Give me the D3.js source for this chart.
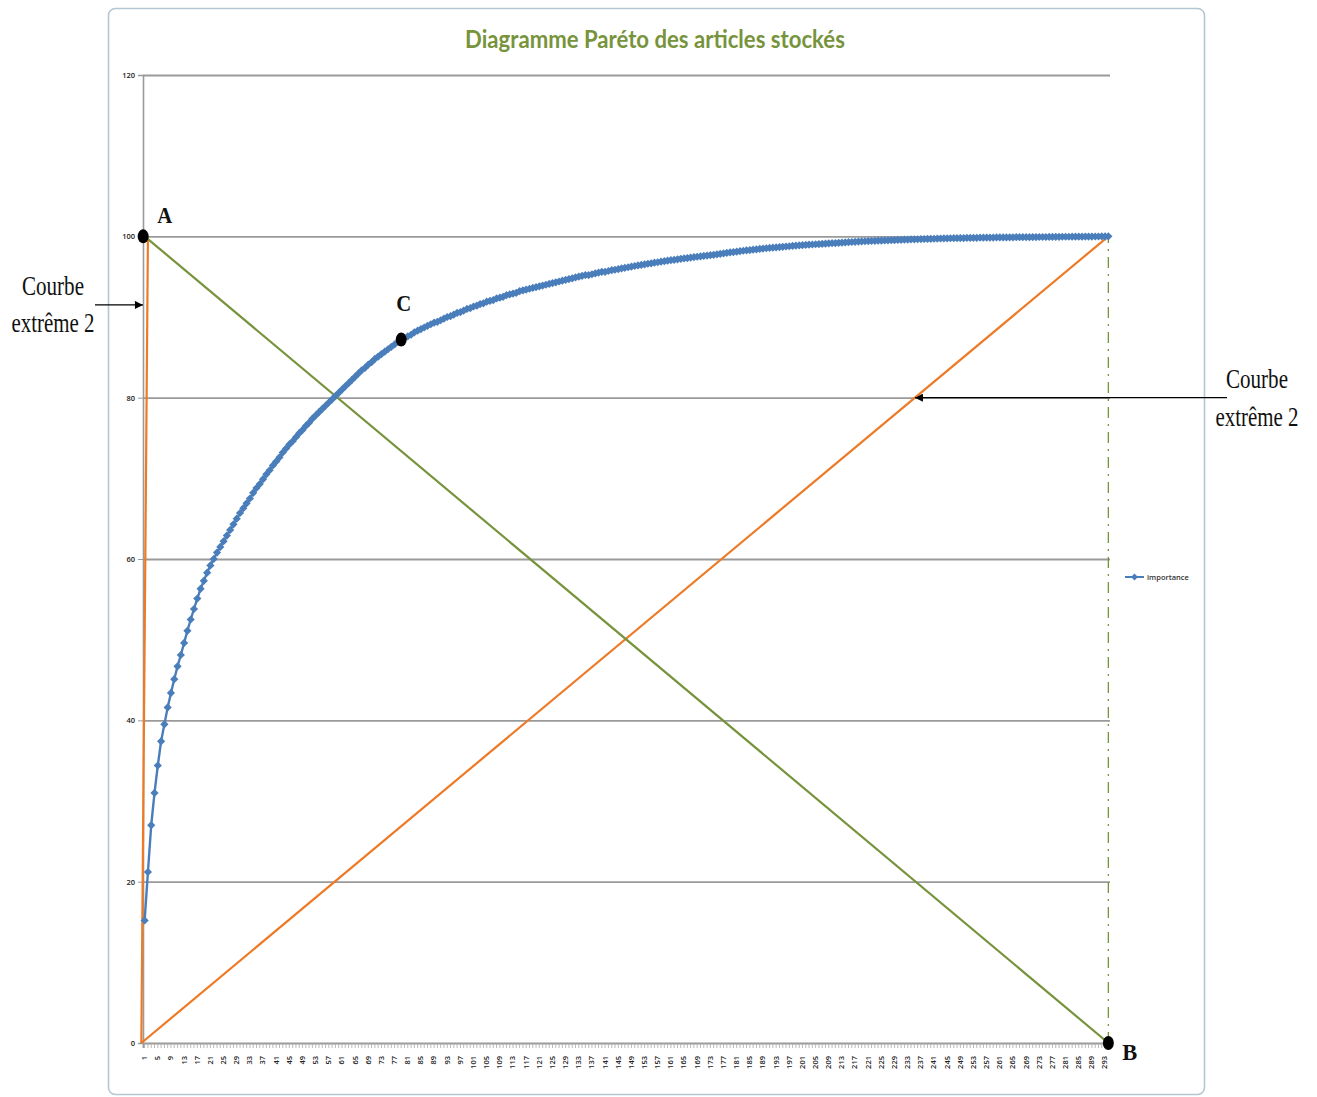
<!DOCTYPE html>
<html>
<head>
<meta charset="utf-8">
<script src="https://cdn.jsdelivr.net/npm/d3@7"></script>
<style>
  body { margin: 0; background: #fff; }
  svg { display: block; }
</style>
</head>
<body>
<svg id="chart" width="1317" height="1097"></svg>
<script>
// ---- data -------------------------------------------------------------
const chartTitle = "Diagramme Paréto des articles stockés";
const seriesName = "importance";

// article ranks 1..294
const categories = d3.range(1, 295);

// cumulative importance (%) by article rank
const importance = [
  15.2, 21.2, 27.0, 31.0, 34.4, 37.4, 39.5, 41.6, 43.4, 45.1,
  46.7, 48.1, 49.6, 51.1, 52.5, 53.8, 55.1, 56.3, 57.3, 58.3,
  59.2, 60.0, 60.8, 61.5, 62.2, 62.9, 63.6, 64.3, 65.0, 65.7,
  66.3, 66.9, 67.5, 68.2, 68.8, 69.3, 69.9, 70.5, 71.0, 71.6,
  72.1, 72.6, 73.2, 73.7, 74.2, 74.6, 75.1, 75.6, 76.0, 76.5,
  76.9, 77.4, 77.8, 78.2, 78.6, 79.0, 79.4, 79.8, 80.2, 80.6,
  81.0, 81.4, 81.8, 82.2, 82.6, 83.0, 83.4, 83.7, 84.1, 84.4,
  84.8, 85.1, 85.4, 85.7, 86.0, 86.3, 86.6, 86.9, 87.2, 87.4,
  87.6, 87.8, 88.1, 88.3, 88.5, 88.7, 88.9, 89.1, 89.3, 89.4,
  89.6, 89.8, 90.0, 90.1, 90.3, 90.5, 90.6, 90.8, 91.0, 91.1,
  91.3, 91.4, 91.6, 91.7, 91.9, 92.0, 92.1, 92.3, 92.4, 92.5,
  92.7, 92.8, 92.9, 93.0, 93.2, 93.3, 93.4, 93.5, 93.6, 93.7,
  93.8, 93.9, 94.0, 94.1, 94.2, 94.3, 94.4, 94.5, 94.6, 94.7,
  94.8, 94.9, 95.0, 95.1, 95.2, 95.2, 95.3, 95.4, 95.5, 95.6,
  95.6, 95.7, 95.8, 95.86, 95.94, 96.02, 96.09, 96.17, 96.25, 96.32,
  96.39, 96.46, 96.53, 96.60, 96.66, 96.73, 96.79, 96.86, 96.92, 96.98,
  97.04, 97.09, 97.15, 97.21, 97.26, 97.31, 97.37, 97.42, 97.47, 97.52,
  97.57, 97.61, 97.66, 97.71, 97.77, 97.83, 97.88, 97.94, 98.00, 98.05,
  98.10, 98.16, 98.21, 98.26, 98.30, 98.35, 98.39, 98.44, 98.48, 98.52,
  98.56, 98.59, 98.63, 98.67, 98.70, 98.74, 98.77, 98.81, 98.84, 98.87,
  98.90, 98.93, 98.96, 98.99, 99.02, 99.04, 99.07, 99.09, 99.12, 99.15,
  99.17, 99.20, 99.22, 99.25, 99.27, 99.30, 99.32, 99.35, 99.37, 99.39,
  99.41, 99.42, 99.44, 99.46, 99.48, 99.49, 99.51, 99.52, 99.54, 99.56,
  99.57, 99.59, 99.60, 99.62, 99.63, 99.64, 99.66, 99.67, 99.68, 99.69,
  99.70, 99.72, 99.73, 99.74, 99.75, 99.76, 99.77, 99.77, 99.78, 99.79,
  99.80, 99.80, 99.81, 99.82, 99.83, 99.83, 99.84, 99.84, 99.85, 99.86,
  99.86, 99.87, 99.87, 99.88, 99.88, 99.89, 99.89, 99.90, 99.90, 99.90,
  99.91, 99.91, 99.92, 99.92, 99.92, 99.93, 99.93, 99.94, 99.94, 99.95,
  99.95, 99.95, 99.96, 99.96, 99.96, 99.96, 99.97, 99.97, 99.97, 99.98,
  99.98, 99.99, 99.99, 100.0
];

const yTickValues = [0, 20, 40, 60, 80, 100, 120];
const xTickLabels = categories.filter(c => (c - 1) % 4 === 0);

// reference lines: [rank, %]
const extremeSteep    = [[0, 0], [2, 100]];
const extremeDiagonal = [[0, 0], [294, 100]];
const diagonalAB      = [[1, 100], [294, 0]];
const verticalB       = [[294, 0], [294, 100]];

// named points
const pointA = { name: "A", rank: 1, value: 100 };
const pointB = { name: "B", rank: 294, value: 0 };
const pointC = { name: "C", rank: 79, value: importance[78] };

// annotation arrow tips, [rank, %]
const arrowLeftTip  = [1.4, 91.5];
const arrowRightTip = [294 * 0.8, 80];
const annotationLines = ["Courbe", "extrême 2"];

// ---- layout -----------------------------------------------------------
const svg = d3.select("#chart");
const plot = { left: 143, right: 1110, top: 75, bottom: 1043 };

const colors = {
  blue: "#4A7EBB",
  orange: "#EE7A26",
  green: "#77933C",
  grid: "#9a9a9a",
  frame: "#b4c6d3",
  title: "#77933C"
};

const x = d3.scaleBand().domain(categories).range([plot.left, plot.right]);
const xl = d3.scaleLinear()
  .domain([0.5, categories.length + 0.5])
  .range([plot.left, plot.right]);
const y = d3.scaleLinear().domain([0, 120]).range([plot.bottom, plot.top]);
const cx = c => x(c) + x.bandwidth() / 2;

// text squeezed horizontally to a given width (narrow typefaces)
function squeezedText(parent, str, px, py, width, attrs) {
  const g = parent.append("g");
  const t = g.append("text").attr("x", 0).attr("y", 0).text(str);
  Object.entries(attrs).forEach(([k, v]) => t.attr(k, v));
  const natural = t.node().getComputedTextLength();
  const sx = width / natural;
  const anchor = attrs["text-anchor"] || "start";
  t.attr("text-anchor", anchor);
  g.attr("transform", `translate(${px},${py}) scale(${sx},1)`);
  return g;
}

// chart frame
svg.append("rect")
  .attr("x", 108.5).attr("y", 8.5)
  .attr("width", 1096).attr("height", 1086)
  .attr("rx", 7)
  .attr("fill", "#fff")
  .attr("stroke", colors.frame)
  .attr("stroke-width", 1.6);

// title
squeezedText(svg, chartTitle, 655, 48, 380, {
  "text-anchor": "middle",
  "font-family": "Lato, 'Open Sans', sans-serif",
  "font-weight": 700,
  "font-size": 25,
  "fill": colors.title
});

// horizontal gridlines
const grid = svg.append("g")
  .attr("transform", `translate(${plot.left},0)`)
  .call(d3.axisLeft(y)
    .tickValues(yTickValues.filter(v => v > 0))
    .tickSize(-(plot.right - plot.left))
    .tickFormat(""));
grid.select(".domain").remove();
grid.selectAll(".tick line").attr("stroke", colors.grid).attr("stroke-width", 1.8);

// y axis
const yAxis = svg.append("g")
  .attr("transform", `translate(${plot.left},0)`)
  .call(d3.axisLeft(y).tickValues(yTickValues).tickSize(5).tickPadding(3));
yAxis.select(".domain").attr("stroke", colors.grid).attr("stroke-width", 1.6);
yAxis.selectAll(".tick line").attr("stroke", colors.grid);
yAxis.selectAll("text")
  .attr("font-family", "'Open Sans', sans-serif")
  .attr("font-size", 7.5)
  .attr("font-weight", 600)
  .attr("fill", "#222");

// x axis: a tick at every rank, a label every fourth rank
const xTicks = svg.append("g")
  .attr("transform", `translate(0,${plot.bottom})`)
  .call(d3.axisBottom(x).tickValues(categories).tickSize(5).tickFormat(""));
xTicks.select(".domain").attr("stroke", colors.grid).attr("stroke-width", 1.8);
xTicks.selectAll(".tick line").attr("stroke", "#a8a8a8").attr("stroke-width", 0.8);

const xLabels = svg.append("g")
  .attr("transform", `translate(0,${plot.bottom})`)
  .call(d3.axisBottom(x).tickValues(xTickLabels).tickSize(0));
xLabels.select(".domain").remove();
xLabels.selectAll("text")
  .attr("font-family", "'Open Sans', sans-serif")
  .attr("font-size", 7.5)
  .attr("font-weight", 600)
  .attr("fill", "#222")
  .attr("text-anchor", "end")
  .attr("transform", "rotate(-90)")
  .attr("x", -13)
  .attr("y", 0)
  .attr("dy", "0.32em");

// reference lines
const lineGen = d3.line().x(d => xl(d[0])).y(d => y(d[1]));
svg.append("path").datum(verticalB)
  .attr("d", lineGen)
  .attr("fill", "none")
  .attr("stroke", colors.green)
  .attr("stroke-width", 1.3)
  .attr("stroke-dasharray", "11,6,2,6");
svg.append("path").datum(extremeDiagonal)
  .attr("d", lineGen).attr("fill", "none")
  .attr("stroke", colors.orange).attr("stroke-width", 2.2);
svg.append("path").datum(extremeSteep)
  .attr("d", lineGen).attr("fill", "none")
  .attr("stroke", colors.orange).attr("stroke-width", 2.2);
svg.append("path").datum(diagonalAB)
  .attr("d", lineGen).attr("fill", "none")
  .attr("stroke", colors.green).attr("stroke-width", 2.2);

// importance series
const series = categories.map((c, i) => ({ c, v: importance[i] }));
svg.append("path").datum(series)
  .attr("d", d3.line().x(d => cx(d.c)).y(d => y(d.v)))
  .attr("fill", "none")
  .attr("stroke", colors.blue)
  .attr("stroke-width", 2.4);
const diamond = r => `M0,${-r}L${r},0L0,${r}L${-r},0Z`;
svg.append("g").selectAll("path")
  .data(series)
  .join("path")
  .attr("transform", d => `translate(${cx(d.c)},${y(d.v)})`)
  .attr("d", diamond(4.1))
  .attr("fill", colors.blue);

// legend
const legend = svg.append("g").attr("transform", "translate(1125,577)");
legend.append("line").attr("x1", 0).attr("x2", 19).attr("y1", 0).attr("y2", 0)
  .attr("stroke", colors.blue).attr("stroke-width", 2);
legend.append("path").attr("transform", "translate(9.5,0)").attr("d", diamond(3.4))
  .attr("fill", colors.blue);
legend.append("text").attr("x", 22).attr("y", 2.5)
  .attr("font-family", "'Open Sans', sans-serif")
  .attr("font-size", 7.5).attr("font-weight", 600).attr("fill", "#333")
  .text(seriesName);

// named points
const serif = "'Liberation Serif', 'Times New Roman', serif";
const points = [
  { ...pointA, px: xl(pointA.rank) - 1.5, py: y(pointA.value), lx: 14, ly: -13 },
  { ...pointC, px: cx(pointC.rank), py: y(pointC.value), lx: -5, ly: -29 },
  { ...pointB, px: xl(pointB.rank), py: y(pointB.value), lx: 14, ly: 17 }
];
const pg = svg.append("g");
pg.selectAll("ellipse").data(points).join("ellipse")
  .attr("cx", d => d.px).attr("cy", d => d.py)
  .attr("rx", 5.5).attr("ry", 7)
  .attr("fill", "#000");
points.forEach(d => {
  squeezedText(pg, d.name, d.px + d.lx, d.py + d.ly, 15, {
    "font-family": serif,
    "font-weight": 700,
    "font-size": 23,
    "fill": "#111"
  });
});

// annotations "Courbe extrême 2"
svg.append("defs").append("marker")
  .attr("id", "arrowhead")
  .attr("viewBox", "0 0 10 10")
  .attr("refX", 10).attr("refY", 5)
  .attr("markerWidth", 10).attr("markerHeight", 8)
  .attr("markerUnits", "userSpaceOnUse")
  .attr("orient", "auto")
  .append("path").attr("d", "M0,0L10,5L0,10Z").attr("fill", "#000");

const leftTip = [xl(arrowLeftTip[0]) - 3, y(arrowLeftTip[1])];
svg.append("line")
  .attr("x1", 95).attr("y1", leftTip[1])
  .attr("x2", leftTip[0]).attr("y2", leftTip[1])
  .attr("stroke", "#000").attr("stroke-width", 1.4)
  .attr("marker-end", "url(#arrowhead)");

const rightTip = [xl(arrowRightTip[0]), y(arrowRightTip[1])];
svg.append("line")
  .attr("x1", 1227).attr("y1", rightTip[1])
  .attr("x2", rightTip[0]).attr("y2", rightTip[1])
  .attr("stroke", "#000").attr("stroke-width", 1.4)
  .attr("marker-end", "url(#arrowhead)");

function annotation(cxText, baseline) {
  const widths = [62, 83];
  annotationLines.forEach((t, i) => {
    squeezedText(svg, t, cxText, baseline + i * 37.5, widths[i], {
      "text-anchor": "middle",
      "font-family": serif,
      "font-size": 27,
      "fill": "#111"
    });
  });
}
annotation(53, 294.5);
annotation(1257, 388);
</script>
</body>
</html>
